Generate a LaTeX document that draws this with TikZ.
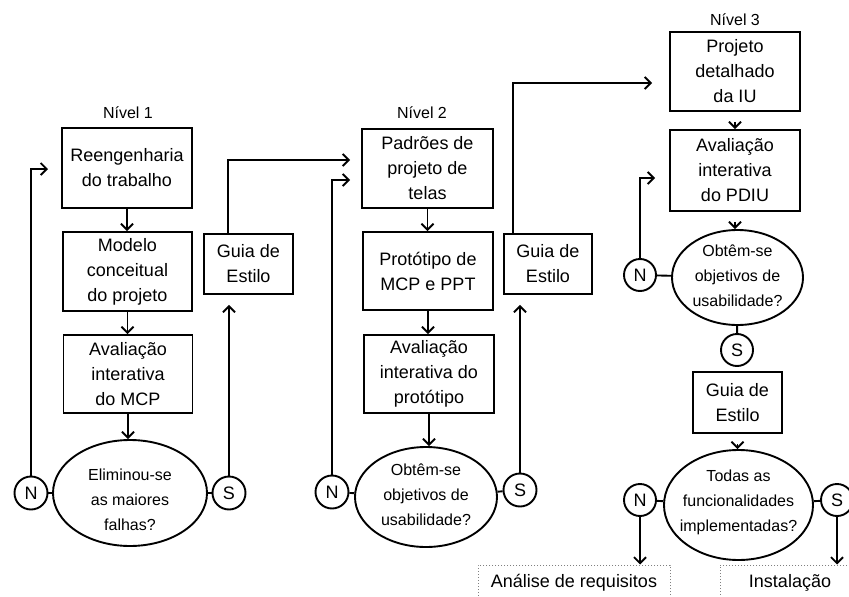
\documentclass[tikz,border=0pt]{standalone}
\usepackage{fontspec}
\setmainfont{Liberation Sans}
\usetikzlibrary{arrows.meta,shapes.geometric}
\begin{document}
\begin{tikzpicture}[x=1pt,y=-1pt,line width=1.9pt,
  boxn/.style={draw, align=center, inner sep=0pt, font=\fontsize{18}{25}\selectfont},
  decn/.style={draw, ellipse, inner sep=0pt},
  dtext/.style={align=center, inner sep=0pt, font=\fontsize{16}{25}\selectfont},
  circn/.style={draw, circle, inner sep=0pt, minimum size=33pt, font=\fontsize{18}{20}\selectfont},
  lvl/.style={inner sep=0pt, font=\fontsize{16}{18}\selectfont},
  arr/.style={-{Straight Barb[length=6pt,width=12pt]}},
  endbox/.style={draw=gray, dotted, line width=1pt, inner sep=0pt, font=\fontsize{18}{22}\selectfont}
]
\useasboundingbox (0,0) rectangle (849,597);

% Level 1
\node[lvl] (lvl1) at (128,113) {Nível 1};
\node[boxn, minimum width=130pt, minimum height=80pt] (b1) at (127,168) {Reengenharia\\do trabalho};
\node[boxn, minimum width=129pt, minimum height=79pt] (b2) at (127.5,271.5) {Modelo\\conceitual\\do projeto};
\node[boxn, minimum width=129pt, minimum height=78pt] (b3) at (128,374) {Avaliação\\interativa\\do MCP};
\node[boxn, minimum width=89pt, minimum height=60pt] (g1) at (248.5,264) {Guia de\\Estilo};
\node[decn, minimum width=154pt, minimum height=106pt] (e1) at (130,493) {};
\node[dtext] (e1t) at (130,500) {Eliminou-se\\as maiores\\falhas?};
\node[circn] (n1) at (31,493) {N};
\node[circn] (s1) at (229,493) {S};

% Level 2
\node[lvl] (lvl2) at (422,113) {Nível 2};
\node[boxn, minimum width=131pt, minimum height=79pt] (p1) at (427.5,168.5) {Padrões de\\projeto de\\telas};
\node[boxn, minimum width=130pt, minimum height=78pt] (p2) at (428,271) {Protótipo de\\MCP e PPT};
\node[boxn, minimum width=130pt, minimum height=78pt] (p3) at (429,374) {Avaliação\\interativa do\\protótipo};
\node[boxn, minimum width=88pt, minimum height=60pt] (g2) at (548,264) {Guia de\\Estilo};
\node[decn, minimum width=142pt, minimum height=100pt] (e2) at (426,497) {};
\node[dtext] (e2t) at (426,495) {Obtêm-se\\objetivos de\\usabilidade?};
\node[circn] (n2) at (332,492) {N};
\node[circn] (s2) at (520,490) {S};

% Level 3
\node[lvl] (lvl3) at (735,20) {Nível 3};
\node[boxn, minimum width=130pt, minimum height=79pt] (r1) at (735,71.5) {Projeto\\detalhado\\da IU};
\node[boxn, minimum width=130pt, minimum height=81pt] (r2) at (735,170.5) {Avaliação\\interativa\\do PDIU};
\node[decn, minimum width=131pt, minimum height=95pt] (e3) at (737.5,277.5) {};
\node[dtext] (e3t) at (737.5,276) {Obtêm-se\\objetivos de\\usabilidade?};
\node[circn, minimum size=32pt] (n3) at (640,275) {N};
\node[circn, minimum size=32pt] (s3) at (737,350) {S};
\node[boxn, minimum width=89pt, minimum height=61pt] (g3) at (737.5,402.5) {Guia de\\Estilo};
\node[decn, minimum width=149pt, minimum height=110pt] (e4) at (738.5,505) {};
\node[dtext] (e4t) at (738.5,502) {Todas as\\funcionalidades\\implementadas?};
\node[circn, minimum size=32pt] (n4) at (640,500) {N};
\node[circn, minimum size=32pt] (s4) at (837,500) {S};

\node[endbox, minimum width=192pt, minimum height=36pt] (a1) at (574,583) {Análise de requisitos};
\node[endbox, minimum width=140pt, minimum height=36pt] (a2) at (790,583) {Instalação};

% free ends
\coordinate (t1) at (48,169);
\coordinate (t2) at (350,160);
\coordinate (t3) at (350,180);
\coordinate (t4) at (652,83);
\coordinate (t5) at (655,178);

% connectors level 1
\draw[arr] (b1.south) -- (b1.south |- b2.north);
\draw[arr] (b2.south) -- (b2.south |- b3.north);
\draw[arr] (b3.south) -- (b3.south |- e1.north);
\draw (n1) -- (e1);
\draw (e1) -- (s1);
\draw[arr] (n1.north) |- (t1);
\draw[arr, shorten >=10pt] (s1.north) -- (s1.north |- g1.south);
\draw[arr] ([xshift=-20.5pt]g1.north) |- (t2);

% connectors level 2
\draw[arr] (p1.south) -- (p1.south |- p2.north);
\draw[arr] (p2.south) -- (p2.south |- p3.north);
\draw[arr] (p3.south) -- (p3.south |- e2.north);
\draw (n2) -- (e2);
\draw (e2) -- (s2);
\draw[arr] (n2.north) |- (t3);
\draw[arr, shorten >=10pt] (s2.north) -- (s2.north |- g2.south);
\draw[arr] ([xshift=-35pt]g2.north) |- (t4);

% connectors level 3
\draw[arr, shorten <=10pt] (r1.south) -- (r1.south |- r2.north);
\draw[arr, shorten <=10pt] (r2.south) -- (r2.south |- e3.north);
\draw (n3) -- (e3);
\draw (e3) -- (s3);
\draw[arr] (n3.north) |- (t5);
\draw[arr, shorten <=10pt] (g3.south) -- (g3.south |- e4.north);
\draw (n4) -- (e4);
\draw (e4) -- (s4);
\draw[arr] (n4.south) -- (n4.south |- a1.north);
\draw[arr] (s4.south) -- (s4.south |- a2.north);
\end{tikzpicture}
\end{document}
